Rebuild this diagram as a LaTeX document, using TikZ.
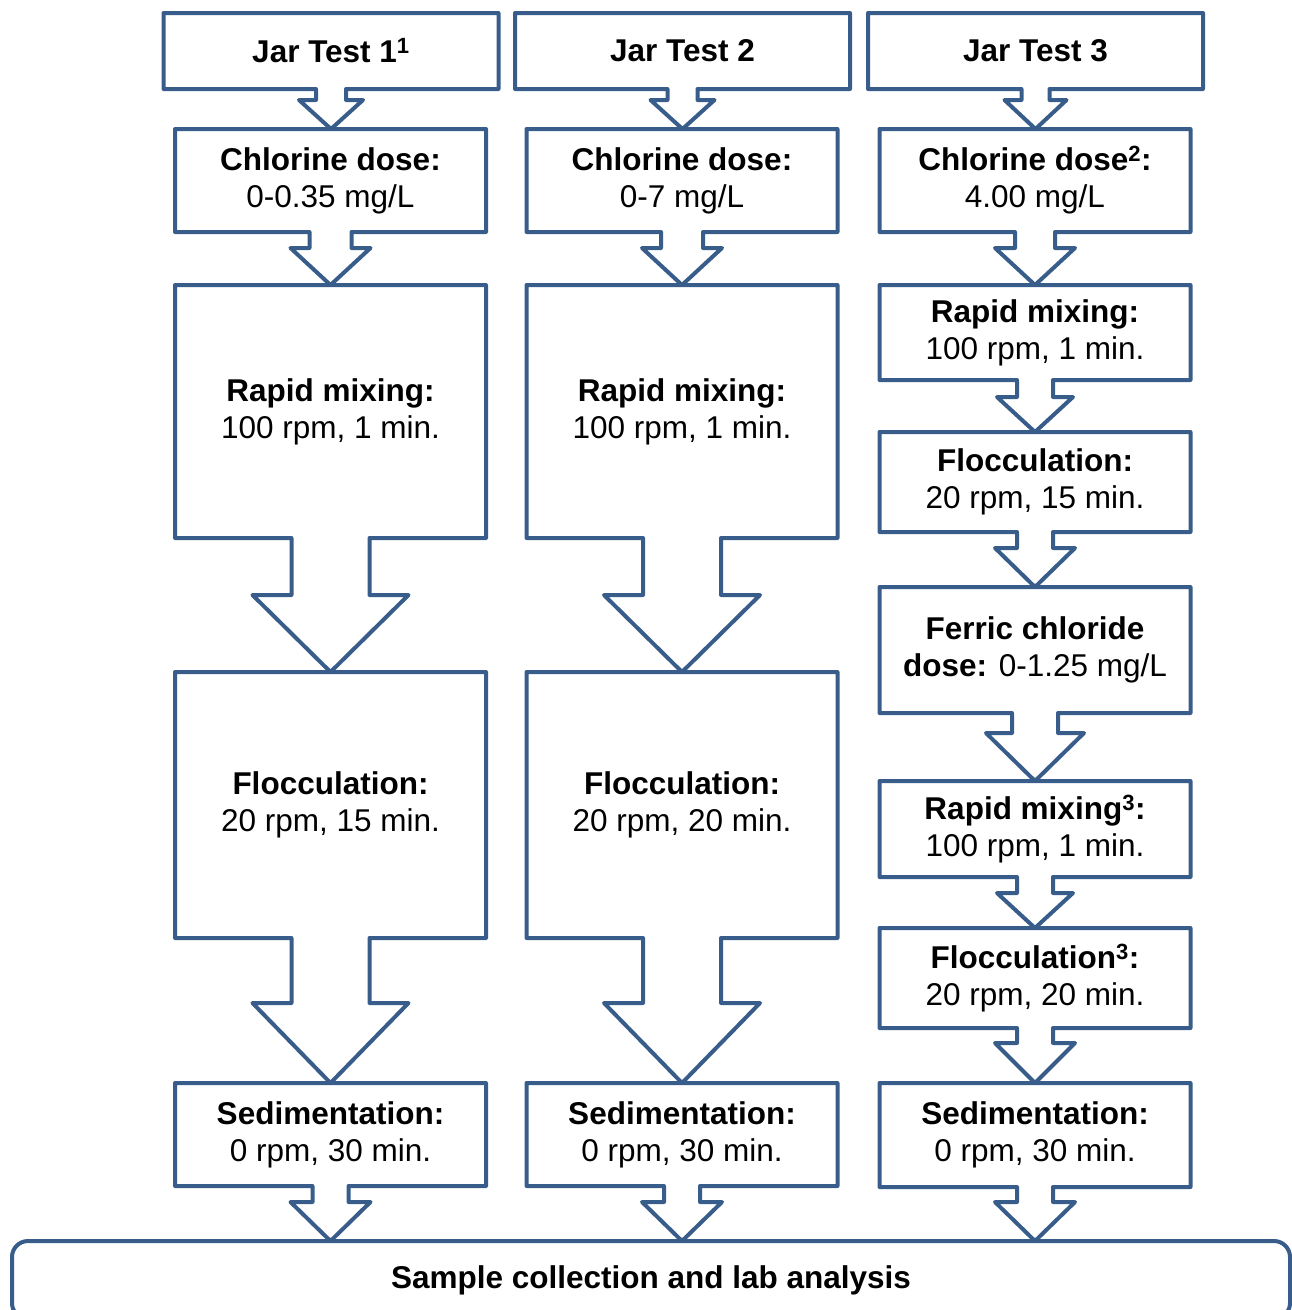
\documentclass[tikz,border=0pt]{standalone}
\usepackage{fontspec}
\setmainfont{Liberation Sans}
\usetikzlibrary{calc}
\definecolor{boxblue}{RGB}{56,93,138}
\tikzset{
  stepbox/.style={minimum width=311pt, outer sep=0pt, inner sep=0pt, align=center,
    font=\fontsize{31.5}{37}\selectfont},
  jarbox/.style={stepbox, minimum width=335pt, minimum height=76pt},
  callout/.style={draw=boxblue, line width=4pt, line join=round},
}

\begin{document}
\begin{tikzpicture}[x=1pt, y=-1pt]
\clip (0,0) rectangle (1292,1310);

% Jar test headers
\node[jarbox] (jar1) at (331,51) {\textbf{Jar Test 1\textsuperscript{1}}};
\node[jarbox] (jar2) at (682.5,51) {\textbf{Jar Test 2}};
\node[jarbox] (jar3) at (1035.5,51) {\textbf{Jar Test 3}};

% Jar test 1
\node[stepbox, minimum height=103pt] (cl1) at (330.5,180.5) {\textbf{Chlorine dose:}\\0-0.35 mg/L};
\node[stepbox, minimum height=253pt] (rm1) at (330.5,411.5) {\textbf{Rapid mixing:}\\100 rpm, 1 min.};
\node[stepbox, minimum height=266pt] (fl1) at (330.5,805) {\textbf{Flocculation:}\\20 rpm, 15 min.};
\node[stepbox, minimum height=103pt] (sd1) at (330.5,1134.5) {\textbf{Sedimentation:}\\0 rpm, 30 min.};

% Jar test 2
\node[stepbox, minimum height=103pt] (cl2) at (682,180.5) {\textbf{Chlorine dose:}\\0-7 mg/L};
\node[stepbox, minimum height=253pt] (rm2) at (682,411.5) {\textbf{Rapid mixing:}\\100 rpm, 1 min.};
\node[stepbox, minimum height=266pt] (fl2) at (682,805) {\textbf{Flocculation:}\\20 rpm, 20 min.};
\node[stepbox, minimum height=103pt] (sd2) at (682,1134.5) {\textbf{Sedimentation:}\\0 rpm, 30 min.};

% Jar test 3
\node[stepbox, minimum height=103pt] (cl3) at (1035,180.5) {\textbf{Chlorine dose\textsuperscript{2}:}\\4.00 mg/L};
\node[stepbox, minimum height=95pt] (rm3) at (1035,332.5) {\textbf{Rapid mixing:}\\100 rpm, 1 min.};
\node[stepbox, minimum height=100pt] (fl3) at (1035,482) {\textbf{Flocculation:}\\20 rpm, 15 min.};
\node[stepbox, minimum height=126pt] (fe3) at (1035,650) {\textbf{Ferric chloride}\\\textbf{dose:} 0-1.25 mg/L};
\node[stepbox, minimum height=96pt] (rmb3) at (1035,829) {\textbf{Rapid mixing\textsuperscript{3}:}\\100 rpm, 1 min.};
\node[stepbox, minimum height=100pt] (flb3) at (1035,978) {\textbf{Flocculation\textsuperscript{3}:}\\20 rpm, 20 min.};
\node[stepbox, minimum height=104pt] (sd3) at (1035,1135) {\textbf{Sedimentation:}\\0 rpm, 30 min.};

% Common end
\node[stepbox, draw=boxblue, line width=4pt, rounded corners=16pt, minimum width=1278pt,
  minimum height=78pt] (sample) at (651,1280) {\textbf{Sample collection and lab analysis}};

% Boxes with down arrows: box/next/shaft/head/shaft length
\foreach \a/\b/\shaft/\head/\len in {jar1/cl1/15/32/11, jar2/cl2/15/32/11, jar3/cl3/14/31/11,
    cl1/rm1/21/40/16, cl2/rm2/21/40/16, cl3/rm3/20/40/16,
    rm1/fl1/39/78/57, rm2/fl2/39/78/57, fl1/sd1/39/78/65, fl2/sd2/39/78/65,
    rm3/fl3/18/38/17, fl3/fe3/18/40/16, fe3/rmb3/23/49/20, rmb3/flb3/18/38/16, flb3/sd3/18/40/15,
    sd1/sample/18/40/16, sd2/sample/18/40/16, sd3/sample/18/40/15}
  \draw[callout] (\a.south west) -- (\a.north west) -- (\a.north east) -- (\a.south east)
    -- ($(\a.south)+(\shaft,0)$) -- ($(\a.south)+(\shaft,\len)$) -- ($(\a.south)+(\head,\len)$)
    -- (\a.south |- \b.north)
    -- ($(\a.south)+(-\head,\len)$) -- ($(\a.south)+(-\shaft,\len)$) -- ($(\a.south)+(-\shaft,0)$)
    -- cycle;
\end{tikzpicture}
\end{document}
